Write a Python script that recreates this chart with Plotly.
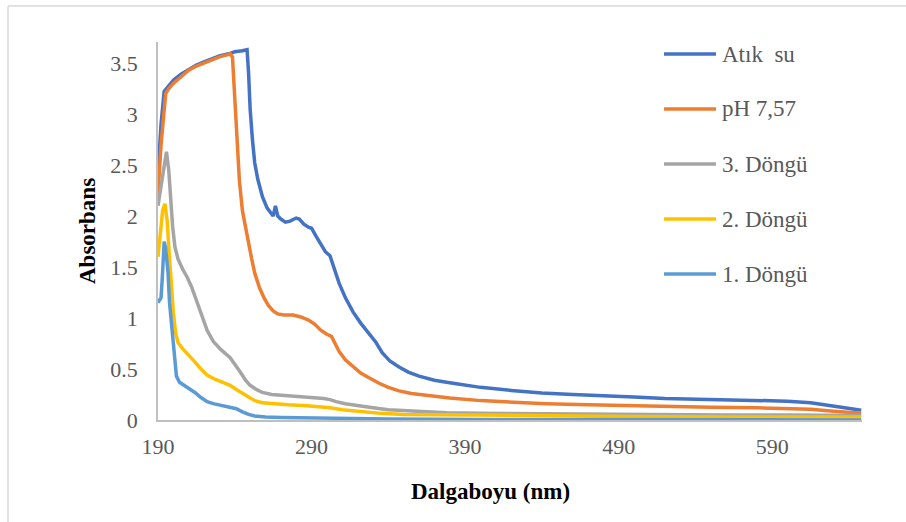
import plotly.graph_objects as go

# ---- data ----
series_names = ["Atık  su", "pH 7,57", "3. Döngü", "2. Döngü", "1. Döngü"]
series_colors = ["#4472C4", "#ED7D31", "#A5A5A5", "#FFC000", "#5B9BD5"]

atik_x = [190, 192, 194, 196, 200, 205, 210, 215, 220, 225, 230, 236, 240, 245, 248,
          249, 250, 251.5, 253, 255, 258, 261, 264, 265, 266.5, 268, 270, 273, 276, 280,
          282, 285, 288, 290, 293, 296, 299, 302, 305, 308, 312, 317, 322, 327, 332,
          336, 341, 347, 353, 360, 370, 380, 390, 400, 420, 440, 460, 480, 500, 520,
          540, 560, 580, 600, 615, 625, 635, 648]
atik_y = [2.42, 2.9, 3.22, 3.26, 3.33, 3.39, 3.44, 3.48, 3.51, 3.54, 3.57, 3.59, 3.61, 3.62, 3.63,
          3.4, 3.05, 2.75, 2.52, 2.36, 2.19, 2.08, 2.02, 2.0, 2.1, 2.0, 1.97, 1.94, 1.95, 1.98,
          1.97, 1.92, 1.89, 1.88, 1.8, 1.72, 1.65, 1.61, 1.48, 1.34, 1.2, 1.06, 0.95, 0.85, 0.76,
          0.66, 0.58, 0.52, 0.47, 0.43, 0.39, 0.365, 0.345, 0.32, 0.29, 0.265, 0.25, 0.24, 0.225, 0.21,
          0.205, 0.2, 0.195, 0.185, 0.17, 0.15, 0.125, 0.095]

ph_x = [190, 192, 195, 197, 200, 205, 210, 215, 220, 225, 230, 235, 237, 238.5, 240,
        241, 243, 245, 248, 251, 253, 256, 259, 262, 265, 268, 272, 278, 283, 288,
        292, 296, 300, 303, 305, 308, 312, 317, 322, 328, 334, 340, 347, 355, 367,
        380, 400, 420, 443, 470, 496, 520, 550, 580, 600, 615, 630, 648]
ph_y = [2.22, 2.7, 3.2, 3.25, 3.3, 3.37, 3.43, 3.47, 3.5, 3.53, 3.56, 3.58, 3.59, 3.56, 3.2,
        2.84, 2.35, 2.05, 1.8, 1.58, 1.44, 1.3, 1.2, 1.12, 1.07, 1.04, 1.03, 1.03, 1.01, 0.98,
        0.94, 0.88, 0.84, 0.82, 0.76, 0.67, 0.59, 0.52, 0.46, 0.41, 0.36, 0.32, 0.285, 0.26, 0.235,
        0.215, 0.19, 0.175, 0.16, 0.15, 0.14, 0.13, 0.125, 0.12, 0.115, 0.105, 0.085, 0.065]

d3_x = [190, 192, 194, 195.5, 197, 198, 199.5, 201, 203, 206, 209, 212, 215, 218, 222,
        226, 231, 237, 241, 244, 247, 250, 254, 258, 264, 272, 285, 292, 298, 302,
        306, 312, 320, 330, 340, 355, 378, 400, 440, 500, 560, 600, 648]
d3_y = [2.1, 2.3, 2.5, 2.63, 2.45, 2.2, 1.9, 1.7, 1.58, 1.48, 1.4, 1.3, 1.17, 1.03, 0.88,
        0.77, 0.69, 0.61, 0.53, 0.46, 0.39, 0.34, 0.3, 0.27, 0.25, 0.24, 0.23, 0.22, 0.21, 0.2,
        0.18, 0.16, 0.14, 0.12, 0.1, 0.085, 0.07, 0.065, 0.06, 0.055, 0.05, 0.05, 0.045]

d2_x = [190, 191.5, 193, 194.5, 196, 197, 198.5, 200, 201.5, 203, 206, 210, 214, 218, 222,
        227, 232, 237, 241, 245, 249, 253, 258, 265, 275, 287, 296, 302, 310, 320,
        335, 350, 380, 420, 496, 560, 648]
d2_y = [1.6, 1.85, 2.05, 2.12, 1.95, 1.7, 1.35, 1.05, 0.85, 0.76, 0.7, 0.64, 0.57, 0.5, 0.44,
        0.4, 0.37, 0.34, 0.3, 0.26, 0.22, 0.19, 0.17, 0.16, 0.15, 0.14, 0.13, 0.12, 0.1, 0.085,
        0.065, 0.055, 0.05, 0.04, 0.035, 0.03, 0.03]

d1_x = [190, 192, 193, 194, 195, 196.5, 197.5, 199, 200.5, 202, 204, 207, 210, 214, 218,
        222, 226, 230, 236, 241, 245, 249, 253, 260, 270, 290, 310, 340, 400, 648]
d1_y = [1.15, 1.2, 1.45, 1.75, 1.68, 1.45, 1.15, 0.88, 0.6, 0.43, 0.37, 0.34, 0.32, 0.27, 0.22,
        0.18, 0.16, 0.145, 0.13, 0.11, 0.08, 0.055, 0.04, 0.03, 0.025, 0.02, 0.015, 0.01, 0.005, 0.0]

x_ticks = [190, 290, 390, 490, 590]
y_ticks = [0, 0.5, 1, 1.5, 2, 2.5, 3, 3.5]
y_tick_labels = ["0", "0.5", "1", "1.5", "2", "2.5", "3", "3.5"]
x_title = "Dalgaboyu (nm)"
y_title = "Absorbans"

series_x = [atik_x, ph_x, d3_x, d2_x, d1_x]
series_y = [atik_y, ph_y, d3_y, d2_y, d1_y]

# ---- layout geometry (pixels) ----
W, H = 906, 522
L, R, T, B = 158, 44, 42, 102
PW, PH = W - L - R, H - T - B


def px(xp):
    return (xp - L) / PW


def py(yp):
    return (H - B - yp) / PH


SERIF = "Liberation Serif, Times New Roman, serif"

fig = go.Figure()
for name, color, xs, ys in zip(series_names, series_colors, series_x, series_y):
    fig.add_trace(go.Scatter(x=xs, y=ys, mode="lines", name=name,
                             line=dict(color=color, width=3.5), showlegend=False))

axis_color = "#BFBFBF"
fig.update_xaxes(range=[190, 648.5], tickvals=x_ticks, showgrid=False, zeroline=False,
                 showline=True, linecolor=axis_color, linewidth=1.5, ticks="",
                 tickfont=dict(family=SERIF, size=22, color="#595959"),
                 ticklabelstandoff=6)
fig.update_yaxes(range=[0, 3.706], tickvals=y_ticks, ticktext=y_tick_labels,
                 showgrid=False, zeroline=False,
                 showline=True, linecolor=axis_color, linewidth=1.5, ticks="",
                 tickfont=dict(family=SERIF, size=22, color="#595959"),
                 ticklabelstandoff=14)

annotations = [
    dict(text="<b>" + y_title + "</b>", xref="paper", yref="paper", x=px(87), y=py(231),
         textangle=-90, showarrow=False, xanchor="center", yanchor="middle",
         font=dict(family=SERIF, size=23, color="#000000")),
    dict(text="<b>" + x_title + "</b>", xref="paper", yref="paper", x=px(490), y=py(491),
         showarrow=False, xanchor="center", yanchor="middle",
         font=dict(family=SERIF, size=23, color="#000000")),
]
shapes = [
    # outer chart border (top and left visible)
    dict(type="line", xref="paper", yref="paper", x0=px(8), x1=px(W + 5), y0=py(6), y1=py(6),
         line=dict(color="#D9D9D9", width=1.5)),
    dict(type="line", xref="paper", yref="paper", x0=px(8), x1=px(8), y0=py(6), y1=py(H + 5),
         line=dict(color="#D9D9D9", width=1.5)),
]

legend_rows = [54, 109, 164, 219, 274]
for name, color, yrow in zip(series_names, series_colors, legend_rows):
    shapes.append(dict(type="line", xref="paper", yref="paper", x0=px(664), x1=px(716),
                       y0=py(yrow), y1=py(yrow), line=dict(color=color, width=3.5)))
    annotations.append(dict(text=name, xref="paper", yref="paper", x=px(720), y=py(yrow),
                            showarrow=False, xanchor="left", yanchor="middle",
                            font=dict(family=SERIF, size=23, color="#595959")))

fig.update_layout(width=W, height=H, margin=dict(l=L, r=R, t=T, b=B),
                  plot_bgcolor="white", paper_bgcolor="white",
                  annotations=annotations, shapes=shapes, showlegend=False)

fig.write_html("out.html", config={"displayModeBar": False},
               post_script="document.body.style.margin='0';document.body.style.overflow='hidden';")
